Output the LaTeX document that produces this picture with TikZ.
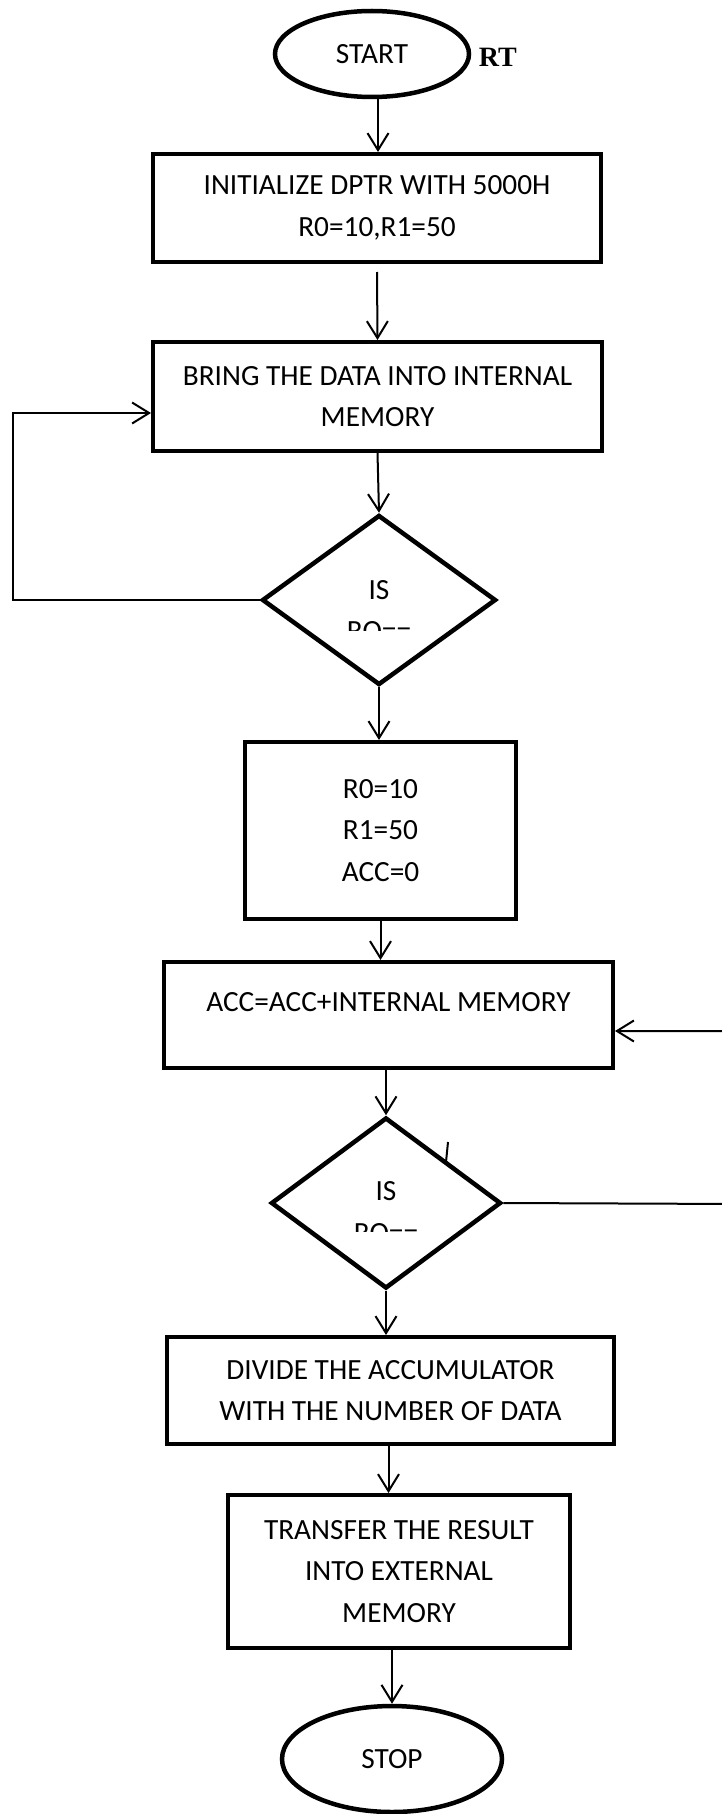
\documentclass[tikz,border=0pt]{standalone}
\usepackage{fontspec}
\setmainfont{Carlito}
\newfontfamily\serifbold{Liberation Serif}
\usepackage{tikz}
\usetikzlibrary{shapes.geometric,arrows.meta}

\begin{document}
\begin{tikzpicture}[x=1pt, y=-1pt,
      every node/.style = {inner sep=0pt, align=center,
        font=\fontsize{29.3}{41.5}\selectfont},
      procbox/.style = {shape=rectangle, draw, line width=4pt, fill=white},
      terminal/.style = {shape=ellipse, draw, line width=4.5pt, fill=white},
      decision/.style = {shape=diamond, draw, line width=4.5pt, fill=white},
      flow/.style = {line width=2pt, -{Straight Barb[length=17pt,width=21pt,line width=2pt]}},
      plain/.style = {line width=2pt}]
    \useasboundingbox (0,0) rectangle (721,1814);

    \node[anchor=base east, font=\serifbold\bfseries\fontsize{28}{30}\selectfont] (rt) at (517,67) {RT};
    \node[terminal, minimum width=194pt, minimum height=86pt] (start) at (372,54) {START};
    \node[procbox, minimum width=448pt, minimum height=108pt] (init) at (377,208)
      {INITIALIZE DPTR WITH 5000H\\R0=10,R1=50};
    \node[procbox, minimum width=449pt, minimum height=109pt] (bring) at (377.5,396.5)
      {BRING THE DATA INTO INTERNAL\\MEMORY};
    \node[decision, minimum width=234pt, minimum height=170pt] (test1) at (379,600) {};
    \node[procbox, minimum width=271pt, minimum height=177pt] (regs) at (380.5,830.5)
      {R0=10\\R1=50\\ACC=0};
    \node[procbox, minimum width=449pt, minimum height=106pt,
      text height=20pt, text depth=28pt] (accum) at (388.5,1015)
      {ACC=ACC+INTERNAL MEMORY};
    \node[decision, minimum width=230pt, minimum height=171pt] (test2) at (386,1203) {};
    \node[procbox, minimum width=447pt, minimum height=107pt] (divide) at (390.5,1390.5)
      {DIVIDE THE ACCUMULATOR\\WITH THE NUMBER OF DATA};
    \node[procbox, minimum width=342pt, minimum height=153pt] (store) at (399,1571.5)
      {TRANSFER THE RESULT\\INTO EXTERNAL\\MEMORY};
    \node[terminal, minimum width=220pt, minimum height=106pt] (stop) at (392,1759) {STOP};

    % questions, cut off by their boxes
    \begin{scope}
      \clip (260,540) rectangle (500,630.5);
      \node (q1) at (379,610.5) {IS\\RO==};
    \end{scope}
    \begin{scope}
      \clip (270,1140) rectangle (500,1231.5);
      \node (q2) at (386,1212) {IS\\RO==};
    \end{scope}

    \draw[flow] ([xshift=6pt]start.south) -- ([xshift=1pt]init.north);
    \draw[flow] ([yshift=-8pt]init.south) -- (bring.north);
    \draw[flow] (bring.south) -- (test1.north);
    \draw[flow] (test1.west) -| (13,413) -- ([yshift=-16.5pt]bring.west);
    \draw[flow] (test1.south) -- (test1.south |- regs.north);
    \draw[flow] (regs.south) -- (regs.south |- accum.north);
    \draw[flow] (accum.south -| test2.north) -- (test2.north);
    \draw[flow] (test2.east) -- (740,1204) |- ([yshift=-16pt]accum.east);
    \draw[plain] (448,1142) -- (446,1162);
    \draw[flow] (test2.south) -- (test2.south |- divide.north);
    \draw[flow] ([xshift=-2pt]divide.south) -- ([xshift=-2pt]divide.south |- store.north);
    \draw[flow] (store.south -| stop.north) -- (stop.north);
  \end{tikzpicture}
\end{document}
